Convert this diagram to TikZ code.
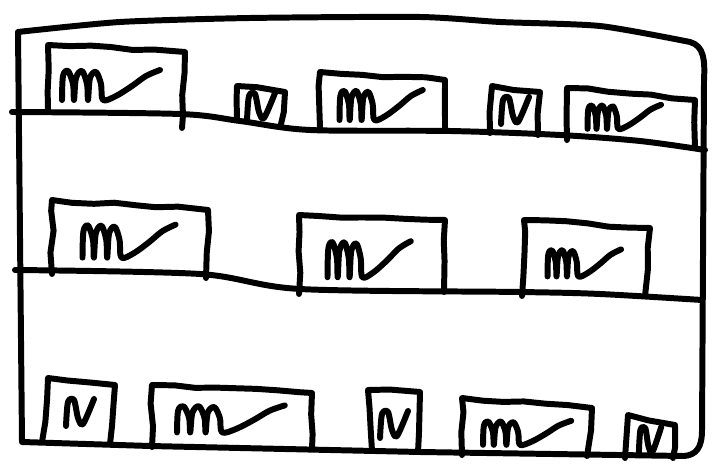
\documentclass[tikz,border=0pt]{standalone}
\usetikzlibrary{decorations.pathmorphing}

\begin{document}
\begin{tikzpicture}[
      x=0.02cm,y=-0.02cm,
      ink/.style={line width=3.4pt,line join=round,line cap=round,black},
      wobbly/.style={ink,decorate,decoration={random steps,segment length=12pt,amplitude=0.9pt}},
      scribwide/.pic={
        \draw[ink] plot[smooth,tension=0.55] coordinates
          {(-50,16) (-49,-8) (-44,-13) (-39,0) (-38,16) (-36,-6) (-30,-13)
           (-25,0) (-24,16) (-22,-6) (-16,-12) (-11,0) (-9,16) (4,12)
           (20,2) (34,-8) (48,-14)};},
      scribnarrow/.pic={
        \draw[ink] plot[smooth,tension=0.5] coordinates
          {(-14,14) (-12,-10) (-6,-12) (-2,6) (3,12) (14,-13)};},
  ]
  \pgfmathsetseed{7}
  \useasboundingbox (0,0) rectangle (715,472);

  % cabinet outline
  \draw[ink] plot[smooth,tension=0.4] coordinates
    {(18,32) (120,22) (250,18) (420,17) (500,22) (600,26) (690,42)}
    .. controls (704,46) and (705,60) .. (704,80)
    -- (702,430) .. controls (702,448) and (696,455) .. (684,456)
    -- (420,452) -- (150,446) -- (22,442) -- cycle;

  % shelves
  \draw[ink] plot[smooth,tension=0.5] coordinates
    {(12,112) (180,114) (240,121) (310,130) (450,131) (560,135) (640,141) (705,150)};
  \draw[ink] plot[smooth,tension=0.5] coordinates
    {(15,270) (200,274) (300,289) (520,292) (600,294) (702,300)};

  % top shelf
  \draw[wobbly] (48,112) -- (48,45) -- (185,52) -- (182,128);
  \draw[wobbly] (237,120) -- (237,86) -- (285,92) -- (281,124);
  \draw[wobbly] (320,128) -- (320,72) -- (445,80) -- (445,130);
  \draw[wobbly] (490,133) -- (492,86) -- (540,92) -- (538,135);
  \draw[wobbly] (567,140) -- (567,88) -- (695,100) -- (695,148);
  \pic[xscale=1.0] at (112,84) {scribwide};
  \pic at (261,106) {scribnarrow};
  \pic[xscale=0.85] at (382,104) {scribwide};
  \pic at (515,110) {scribnarrow};
  \pic[xscale=0.75,yscale=0.8] at (625,116) {scribwide};

  % middle shelf
  \draw[wobbly] (52,274) -- (52,200) -- (208,210) -- (206,278);
  \draw[wobbly] (299,294) -- (299,215) -- (445,220) -- (444,292);
  \draw[wobbly] (522,296) -- (524,220) -- (650,228) -- (645,296);
  \pic[xscale=0.95,yscale=1.1] at (130,240) {scribwide};
  \pic[xscale=0.85,yscale=1.2] at (370,258) {scribwide};
  \pic[xscale=0.75,yscale=0.9] at (585,262) {scribwide};

  % bottom shelf
  \draw[wobbly] (42,442) -- (48,378) -- (115,385) -- (110,444);
  \draw[wobbly] (152,447) -- (152,385) -- (312,393) -- (312,448);
  \draw[wobbly] (372,451) -- (368,390) -- (420,392) -- (418,452);
  \draw[wobbly] (462,455) -- (462,398) -- (592,408) -- (587,456);
  \draw[wobbly] (625,458) -- (628,415) -- (675,425) -- (673,458);
  \pic at (80,412) {scribnarrow};
  \pic[xscale=1.1,yscale=0.9] at (232,418) {scribwide};
  \pic at (394,424) {scribnarrow};
  \pic[xscale=0.9,yscale=0.8] at (528,432) {scribwide};
  \pic[xscale=0.8] at (650,440) {scribnarrow};
\end{tikzpicture}
\end{document}
